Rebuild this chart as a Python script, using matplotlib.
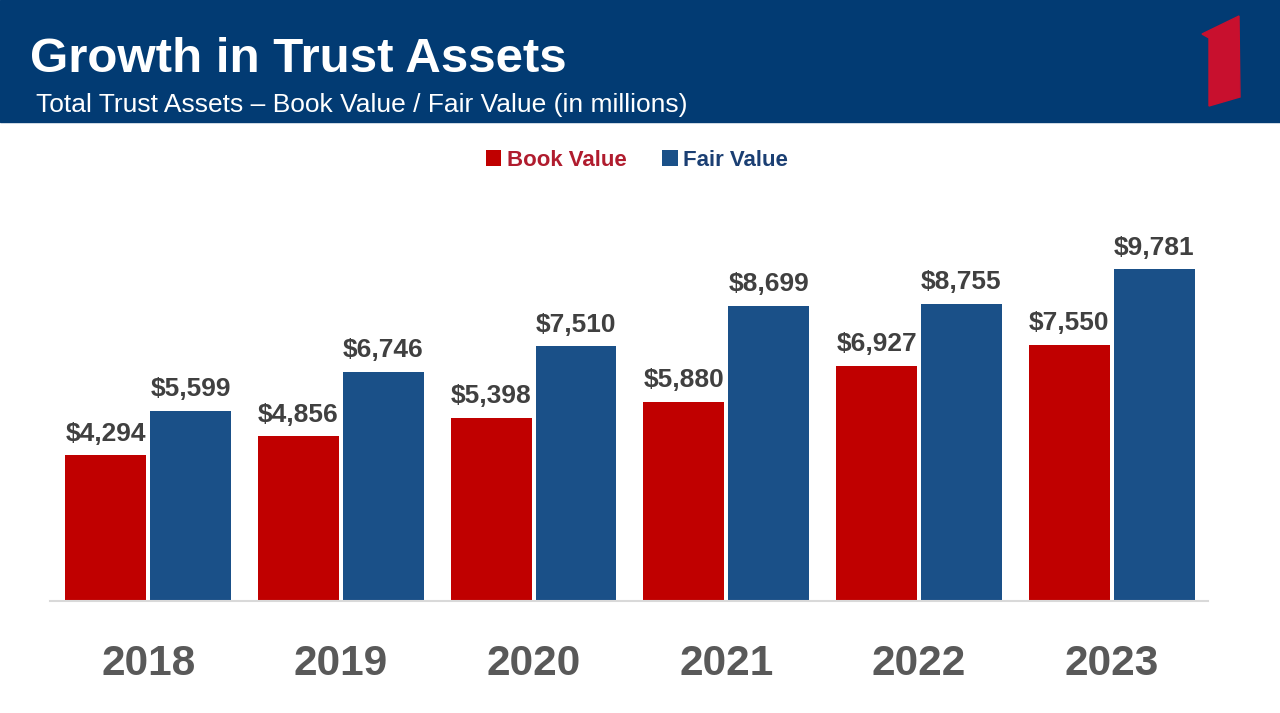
import matplotlib
matplotlib.use("Agg")
import matplotlib.pyplot as plt
from matplotlib.patches import Rectangle, Polygon
import numpy as np

years = ["2018", "2019", "2020", "2021", "2022", "2023"]
book_value = [4294, 4856, 5398, 5880, 6927, 7550]
fair_value = [5599, 6746, 7510, 8699, 8755, 9781]

RED = "#C00000"
BLUE = "#1A5088"
NAVY = "#023B73"
plt.rcParams["font.family"] = ["Liberation Sans", "DejaVu Sans"]

W, H = 1280, 713
fig = plt.figure(figsize=(W / 100, H / 100), dpi=100)


def fx(px):
    return px / W


def fy(py):
    return 1 - py / H


# header band with logo
fig.patches.append(Rectangle((0, fy(122)), 1, 122 / H, transform=fig.transFigure,
                             color=NAVY, zorder=0))
logo = [(1202, 34), (1239, 16), (1240, 97), (1209, 106), (1209, 38)]
fig.patches.append(Polygon([(fx(x), fy(y)) for x, y in logo], closed=True,
                           transform=fig.transFigure, color="#C8102E", zorder=1))
fig.text(fx(30), fy(72), "Growth in Trust Assets", color="white", fontsize=35.5,
         fontweight="bold", va="baseline", ha="left")
fig.text(fx(36), fy(112), "Total Trust Assets \u2013 Book Value / Fair Value (in millions)",
         color="white", fontsize=19, va="baseline", ha="left")

# bars
ax = fig.add_axes([fx(50), fy(601), fx(1208) - fx(50), fy(194) - fy(601)])
x = np.arange(len(years))
w = 0.42
b1 = ax.bar(x - 0.22, book_value, w, color=RED, label="Book Value")
b2 = ax.bar(x + 0.22, fair_value, w, color=BLUE, label="Fair Value")

for bars, vals in ((b1, book_value), (b2, fair_value)):
    for bar, v in zip(bars, vals):
        ax.annotate(f"${v:,}", (bar.get_x() + bar.get_width() / 2, v),
                    xytext=(0, 7), textcoords="offset points", ha="center",
                    va="bottom", fontsize=19, fontweight="bold", color="#404040")

ax.set_xlim(-0.51, 5.5)
ax.set_ylim(0, 12000)
ax.set_yticks([])
ax.set_xticks(x)
ax.set_xticklabels(years, fontsize=30.5, fontweight="bold", color="#595959")
ax.tick_params(axis="x", length=0, pad=31)
for s in ["top", "right", "left"]:
    ax.spines[s].set_visible(False)
ax.spines["bottom"].set_color("#D9D9D9")
ax.spines["bottom"].set_linewidth(1.5)

fig.legend(handles=[b1, b2], loc="center", bbox_to_anchor=(fx(637), fy(160)),
           ncol=2, frameon=False, handlelength=0.7, handleheight=0.7,
           handletextpad=0.25, columnspacing=1.6,
           labelcolor=["#B01C2E", "#1B3F73"], prop={"weight": "bold", "size": 16})

fig.savefig("out.png", dpi=100)
